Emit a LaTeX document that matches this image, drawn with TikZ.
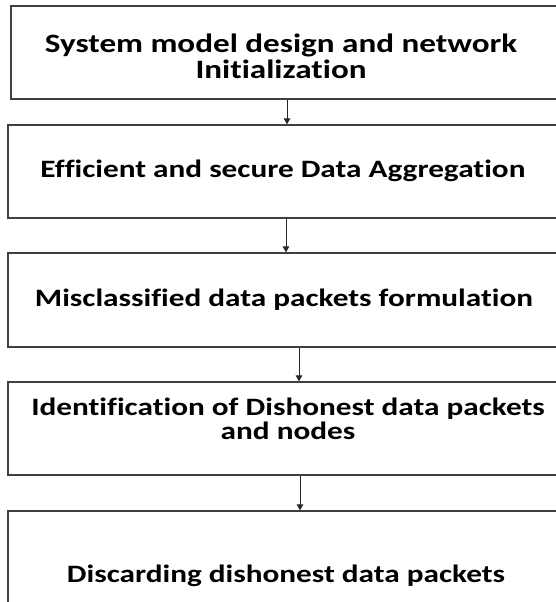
\documentclass[tikz,border=0pt]{standalone}
\usepackage{fontspec}
\newfontfamily\boxfont[FakeStretch=1.25,UprightFont={* Bold},RawFeature={-liga}]{Carlito}
\usetikzlibrary{arrows.meta}
\tikzset{
  stage/.style={draw=black!75, line width=1.3pt, rectangle, inner sep=0pt},
  label/.style={font=\boxfont\fontsize{25}{24}\selectfont, align=center, inner sep=0pt},
  biglabel/.style={font=\boxfont\fontsize{26.5}{26}\selectfont, align=center, inner sep=0pt},
  flow/.style={draw=black!85, line width=0.8pt, -{Triangle[width=6.5pt,length=6pt]}}
}
\begin{document}
\begin{tikzpicture}[x=1pt,y=-1pt]
\useasboundingbox (0,0) rectangle (556,602);
\clip (0,0) rectangle (556,602);
\node[stage, minimum width=552pt, minimum height=93pt] (b1) at (287,52.5) {};
\node[stage, minimum width=555pt, minimum height=93pt] (b2) at (285.5,171.5) {};
\node[stage, minimum width=555pt, minimum height=94pt] (b3) at (285.5,300) {};
\node[stage, minimum width=555pt, minimum height=93pt] (b4) at (285.5,428.5) {};
\node[stage, minimum width=555pt, minimum height=130pt] (b5) at (285.5,576) {};
\node[biglabel] (t1) at (281,56) {System model design and network\\Initialization};
\node[label] (t2) at (283,171) {Efficient and secure Data Aggregation};
\node[label] (t3) at (284,300) {Misclassified data packets formulation};
\node[label] (t4) at (288,419) {Identification of Dishonest data packets\\and nodes};
\node[label] (t5) at (286,576) {Discarding dishonest data packets};
\coordinate (x1) at (287,0);
\coordinate (x2) at (286,0);
\coordinate (x3) at (299,0);
\coordinate (x4) at (300,0);
\draw[flow] (b1.south -| x1) -- (b2.north -| x1);
\draw[flow] (b2.south -| x2) -- (b3.north -| x2);
\draw[flow] (b3.south -| x3) -- (b4.north -| x3);
\draw[flow] (b4.south -| x4) -- (b5.north -| x4);
\end{tikzpicture}
\end{document}
